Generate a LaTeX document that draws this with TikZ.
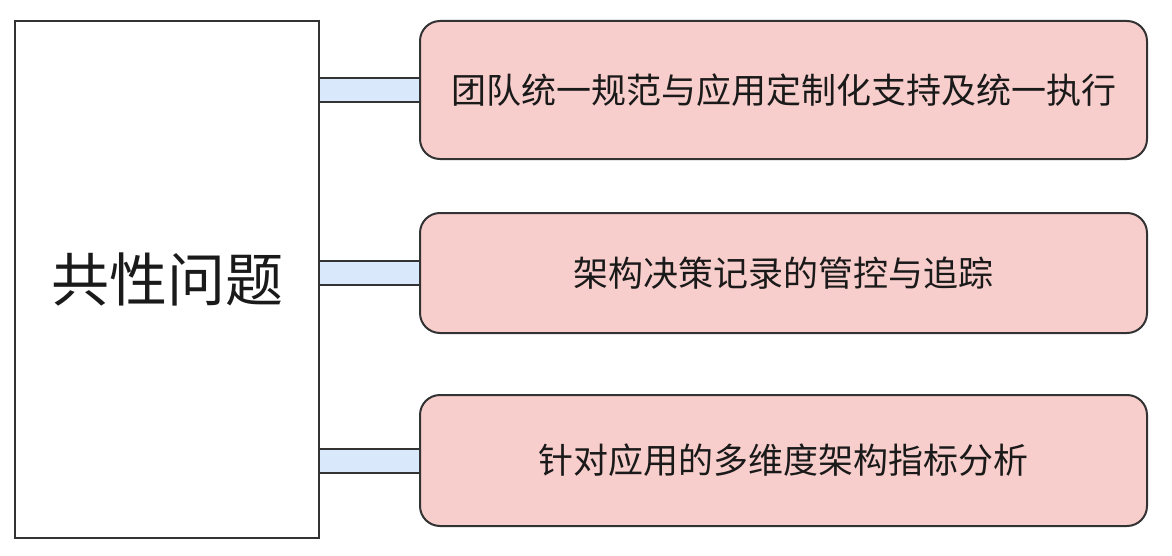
\documentclass[tikz,border=0pt]{standalone}
\usepackage{fontspec}
\newfontfamily\cjk{Noto Sans CJK SC}
\usepackage{tikz}
\usetikzlibrary{positioning}
\usepackage[dvipsnames]{xcolor}
\definecolor{boxline}{HTML}{333333}
\definecolor{pinkfill}{HTML}{F8CECC}
\definecolor{bluefill}{HTML}{DAE8FC}
\definecolor{inktext}{HTML}{1A1A1A}

\begin{document}
\begin{tikzpicture}[x=0.5pt, y=-0.5pt, text=inktext,
    topic/.style={rectangle, draw=boxline, line width=1pt, fill=white, minimum width=152pt, minimum height=258.5pt, font=\cjk\fontsize{29}{34}\selectfont},
    item/.style={rectangle, rounded corners=10pt, draw=boxline, line width=1pt, fill=pinkfill, minimum width=363.5pt, font=\cjk\fontsize{17.5}{21}\selectfont},
    link/.style={draw=boxline, line width=1pt, double=bluefill, double distance=11pt}]

            \useasboundingbox (0,0) rectangle (1172,556);

            \node[topic] (common) at (167,279.5) {共性问题};

            \foreach \x/ \y/ \h/ \t in {A/90/69/团队统一规范与应用定制化支持及统一执行, B/273/60/架构决策记录的管控与追踪, C/460.5/65.5/针对应用的多维度架构指标分析}{
                \node[item, minimum height=\h pt] (\x) at (783.5,\y) {\t};
            }


            \foreach \d in {A, B, C}{
                \draw[link] (common.east |- \d.west) -- (\d.west);
            }

    \end{tikzpicture}
\end{document}
